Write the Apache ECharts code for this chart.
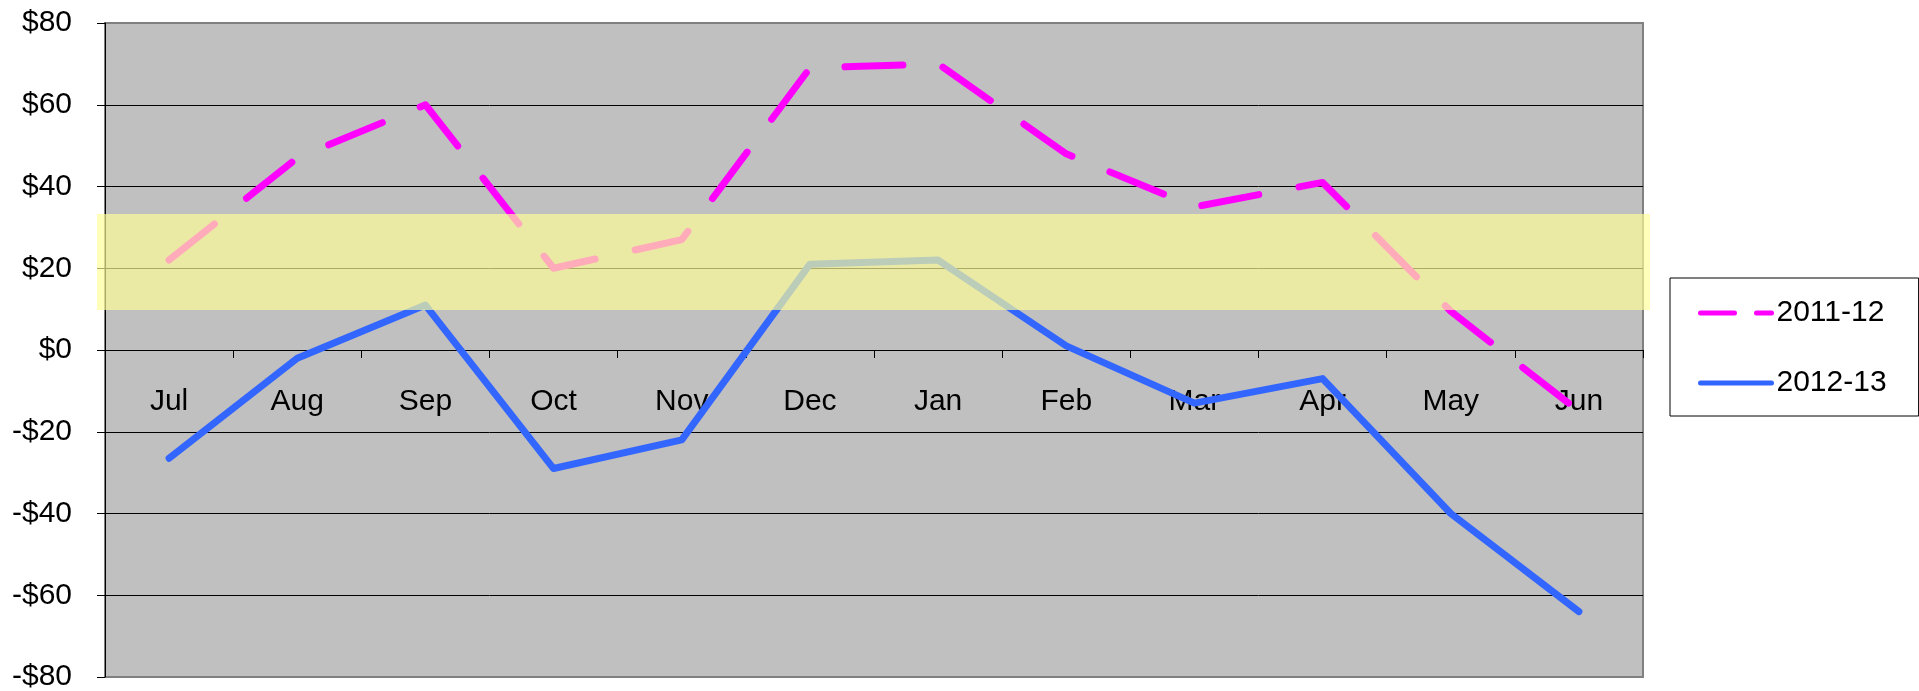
<!DOCTYPE html>
<html>
<head>
<meta charset="utf-8">
<script src="https://cdn.jsdelivr.net/npm/echarts@6/dist/echarts.min.js"></script>
<style>
  html, body { margin: 0; padding: 0; background: #fff; }
  #chart { width: 1919px; height: 691px; }
</style>
</head>
<body>
<div id="chart"></div>
<script>
  // data
  var months = ['Jul', 'Aug', 'Sep', 'Oct', 'Nov', 'Dec', 'Jan', 'Feb', 'Mar', 'Apr', 'May', 'Jun'];
  var fy2011 = [22, 47, 60, 20, 27, 69, 70, 48, 35, 41, 9.5, -15];
  var fy2012 = [-26.5, -2, 11, -29, -22, 21, 22, 1, -13, -7, -40, -64];
  var yMin = -80, yMax = 80, yStep = 20;
  // highlighted band (value range)
  var bandFrom = 9.8, bandTo = 33.3;

  var font = 'Liberation Sans, Arial, sans-serif';
  var W = 1919, H = 691;
  var gridLeft = 105, gridRight = 276, gridTop = 23, gridBottom = 14;
  var plotHeight = H - gridTop - gridBottom;
  // category axis sits on the zero line
  var zeroOffset = -plotHeight * (0 - yMin) / (yMax - yMin);

  var chart = echarts.init(document.getElementById('chart'));

  var option = {
    animation: false,
    backgroundColor: '#fff',
    textStyle: { fontFamily: font },
    grid: {
      left: gridLeft,
      right: gridRight,
      top: gridTop,
      bottom: gridBottom,
      containLabel: false,
      outerBoundsMode: 'none',
      show: true,
      backgroundColor: '#C0C0C0',
      borderColor: '#808080',
      borderWidth: 2
    },
    legend: {
      orient: 'vertical',
      left: 1670,
      top: 278,
      padding: [20, 32, 18, 28],
      backgroundColor: '#fff',
      borderColor: '#000',
      borderWidth: 1,
      borderRadius: 0,
      itemWidth: 71,
      itemHeight: 14,
      itemGap: 40,
      textStyle: { fontSize: 30, color: '#000', fontFamily: font, lineHeight: 30 },
      data: [
        { name: '2011-12', itemStyle: { opacity: 0 }, lineStyle: { width: 5, type: [34, 22], cap: 'round' } },
        { name: '2012-13', itemStyle: { opacity: 0 }, lineStyle: { width: 5, cap: 'round' } }
      ]
    },
    xAxis: {
      type: 'category',
      data: months,
      boundaryGap: true,
      offset: zeroOffset,
      axisLine: { onZero: false, lineStyle: { color: '#000', width: 1 } },
      axisTick: { show: true, interval: 0, length: 8, lineStyle: { color: '#000' } },
      axisLabel: { interval: 0, margin: 37, fontSize: 30, color: '#000', fontFamily: font },
      splitLine: { show: false }
    },
    yAxis: {
      type: 'value',
      min: yMin,
      max: yMax,
      interval: yStep,
      axisLine: { show: true, lineStyle: { color: '#000', width: 1 } },
      axisTick: { show: true, length: 8, lineStyle: { color: '#000' } },
      axisLabel: {
        margin: 33,
        fontSize: 30,
        color: '#000',
        fontFamily: font,
        formatter: function (v) { return v < 0 ? '-$' + Math.abs(v) : '$' + v; }
      },
      splitLine: { show: true, showMinLine: false, showMaxLine: false, lineStyle: { color: '#000', width: 1 } }
    },
    series: [
      {
        name: '2011-12',
        type: 'line',
        data: fy2011,
        symbol: 'none',
        z: 3,
        lineStyle: { color: '#FF00FF', width: 7, type: [58, 41], cap: 'round', join: 'round' },
        itemStyle: { color: '#FF00FF' }
      },
      {
        name: '2012-13',
        type: 'line',
        data: fy2012,
        symbol: 'none',
        z: 2,
        lineStyle: { color: '#3366FF', width: 7, cap: 'round', join: 'round' },
        itemStyle: { color: '#3366FF' }
      }
    ]
  };

  chart.setOption(option);

  // translucent yellow band laid over the plot
  var bandTop = chart.convertToPixel({ yAxisIndex: 0 }, bandTo);
  var bandBottom = chart.convertToPixel({ yAxisIndex: 0 }, bandFrom);
  var plotWidth = W - gridLeft - gridRight;
  chart.setOption({
    graphic: [{
      type: 'rect',
      z: 100,
      silent: true,
      shape: { x: gridLeft - 8, y: bandTop, width: plotWidth + 15, height: bandBottom - bandTop },
      style: { fill: 'rgba(255,255,150,0.67)' }
    }]
  });
</script>
</body>
</html>
